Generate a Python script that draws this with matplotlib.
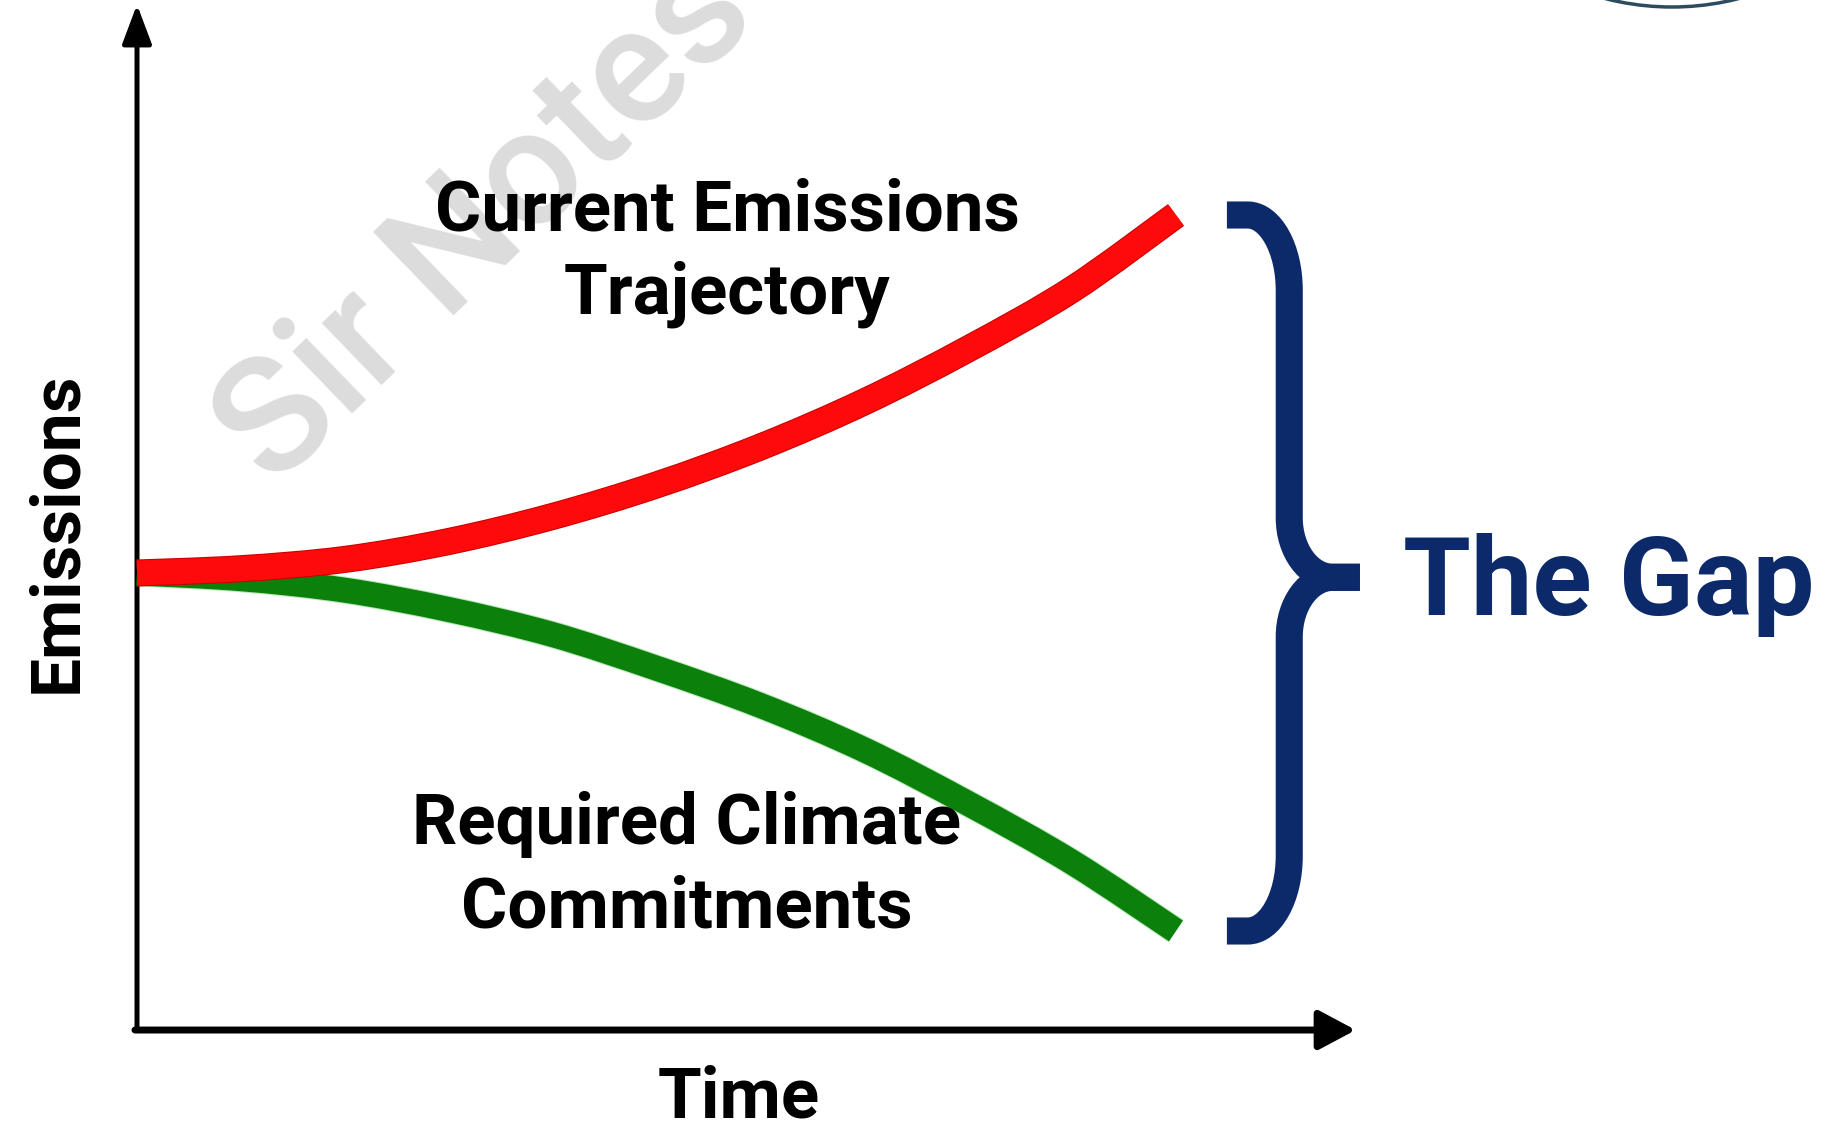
import matplotlib
matplotlib.use("Agg")
import matplotlib.pyplot as plt
from matplotlib.path import Path
from matplotlib.patches import PathPatch, Ellipse
import matplotlib.patheffects as pe

# ---------------- data ----------------
time = [0, 1, 2, 3, 4, 5, 6, 7, 8, 9, 10]
current_trajectory = [50, 50.6, 51.9, 54.4, 57.9, 62.3, 67.6, 73.9, 81.3, 89.6, 100]
required_commitments = [50, 49.2, 47.6, 44.9, 41.4, 36.7, 31.5, 25.3, 17.8, 9.6, 0]

label_current = ["Current Emissions", "Trajectory"]
label_required = ["Required Climate", "Commitments"]
xlabel = "Time"
ylabel = "Emissions"
gap_label = "The Gap"
watermark = "Sir Notes"

# ---------------- style ----------------
RED = "#ff0a0a"
GREEN = "#0b800b"
NAVY = "#0c2a6a"
FONT = ["Roboto", "DejaVu Sans"]


def smooth_path(xs, ys):
    """Smooth curve through the given points (Catmull-Rom as cubic Beziers)."""
    pts = list(zip(xs, ys))
    n = len(pts)
    verts = [pts[0]]
    codes = [Path.MOVETO]
    for i in range(n - 1):
        p0 = pts[i - 1] if i > 0 else pts[i]
        p1 = pts[i]
        p2 = pts[i + 1]
        p3 = pts[i + 2] if i + 2 < n else pts[i + 1]
        c1 = (p1[0] + (p2[0] - p0[0]) / 6, p1[1] + (p2[1] - p0[1]) / 6)
        c2 = (p2[0] - (p3[0] - p1[0]) / 6, p2[1] - (p3[1] - p1[1]) / 6)
        verts += [c1, c2, p2]
        codes += [Path.CURVE4] * 3
    return Path(verts, codes)


fig = plt.figure(figsize=(18.25, 11.27), dpi=100)
fig.patch.set_facecolor("white")
ax = fig.add_axes([0, 0, 1, 1])
ax.set_xlim(-1.3186, 16.2464)
ax.set_ylim(-27.374, 130.028)
ax.axis("off")

# watermark
ax.text(3.35, 99.0, watermark, rotation=44, ha="center", va="center",
        fontsize=118, fontweight="medium", color="#dcdcdc", family=FONT, zorder=0)

# top-right partial logo circle
fig.patches.append(Ellipse((1672 / 1825, 1 + 262 / 1127), 538 / 1825, 538 / 1127,
                           transform=fig.transFigure, fill=False,
                           edgecolor="#2d4b5e", lw=2.5))

# axes arrows
y_axis_bottom = -13.83
y_axis_top = 129.4
x_axis_end = 11.73
ax.annotate("", xy=(0, y_axis_top), xytext=(0, y_axis_bottom),
            arrowprops=dict(arrowstyle="-|>,head_length=0.8,head_width=0.3",
                            mutation_scale=30, lw=3.6, color="black",
                            shrinkA=0, shrinkB=0), zorder=3)
ax.annotate("", xy=(x_axis_end, y_axis_bottom), xytext=(-0.02, y_axis_bottom),
            arrowprops=dict(arrowstyle="-|>,head_length=0.75,head_width=0.4",
                            mutation_scale=30, lw=5, color="black",
                            shrinkA=0, shrinkB=0), zorder=3)

# curves (smooth through the read points)
ax.add_patch(PathPatch(smooth_path(time, required_commitments), fill=False,
                       edgecolor=GREEN, lw=18, capstyle="butt", joinstyle="round",
                       zorder=4,
                       path_effects=[pe.Stroke(linewidth=19.5, foreground="#3bbf3b", alpha=0.35),
                                     pe.Normal()]))
ax.add_patch(PathPatch(smooth_path(time, current_trajectory), fill=False,
                       edgecolor=RED, lw=18, capstyle="butt", joinstyle="round",
                       zorder=5,
                       path_effects=[pe.Stroke(linewidth=19.5, foreground="#c80000"),
                                     pe.Normal()]))

# brace spanning the gap between trajectories at the end
top = current_trajectory[-1]
bottom = required_commitments[-1]
mid = (top + bottom) / 2 - 0.6
x0 = time[-1] + 0.49      # stub start
xv = time[-1] + 1.09      # vertical stroke
xt = time[-1] + 1.77      # tip
rx, ry = 0.40, 10.5       # end curve radii
rx2, ry2 = 0.42, 8.3      # middle curve radii
k = 0.55

upper = Path([(x0, top), (xv - rx, top),
              (xv - rx + rx * k, top), (xv, top - ry + ry * k), (xv, top - ry),
              (xv, mid + ry2),
              (xv, mid + ry2 - ry2 * k), (xv + rx2 - rx2 * k, mid), (xv + rx2, mid),
              (xt, mid)],
             [Path.MOVETO, Path.LINETO,
              Path.CURVE4, Path.CURVE4, Path.CURVE4,
              Path.LINETO,
              Path.CURVE4, Path.CURVE4, Path.CURVE4,
              Path.LINETO])
lower = Path([(xt, mid), (xv + rx2, mid),
              (xv + rx2 - rx2 * k, mid), (xv, mid - ry2 + ry2 * k), (xv, mid - ry2),
              (xv, bottom + ry),
              (xv, bottom + ry - ry * k), (xv - rx + rx * k, bottom), (xv - rx, bottom),
              (x0, bottom)],
             [Path.MOVETO, Path.LINETO,
              Path.CURVE4, Path.CURVE4, Path.CURVE4,
              Path.LINETO,
              Path.CURVE4, Path.CURVE4, Path.CURVE4,
              Path.LINETO])
for p in (upper, lower):
    ax.add_patch(PathPatch(p, fill=False, edgecolor=NAVY, lw=19.5,
                           capstyle="butt", joinstyle="round", zorder=4))

# texts
LBL = 51
ax.text(5.68, 97.9, label_current[0], ha="center", va="baseline", fontsize=LBL,
        fontweight="bold", family=FONT, color="black", zorder=6)
ax.text(5.68, 86.2, label_current[1], ha="center", va="baseline", fontsize=LBL,
        fontweight="bold", family=FONT, color="black", zorder=6)
ax.text(5.29, 12.15, label_required[0], ha="center", va="baseline", fontsize=LBL,
        fontweight="bold", family=FONT, color="black", zorder=6)
ax.text(5.29, 0.42, label_required[1], ha="center", va="baseline", fontsize=LBL,
        fontweight="bold", family=FONT, color="black", zorder=6)
ax.text(5.79, -26.0, xlabel, ha="center", va="baseline", fontsize=51,
        fontweight="bold", family=FONT, color="black", zorder=6)
ax.text(-0.76, 55.7, ylabel, ha="center", va="center", rotation=90, fontsize=50,
        fontweight="bold", family=FONT, color="black", zorder=6)
ax.text(12.18, 44.1, gap_label, ha="left", va="baseline", fontsize=79,
        fontweight="bold", family=FONT, color=NAVY, zorder=6)

fig.savefig("out.png", dpi=100, facecolor="white")
